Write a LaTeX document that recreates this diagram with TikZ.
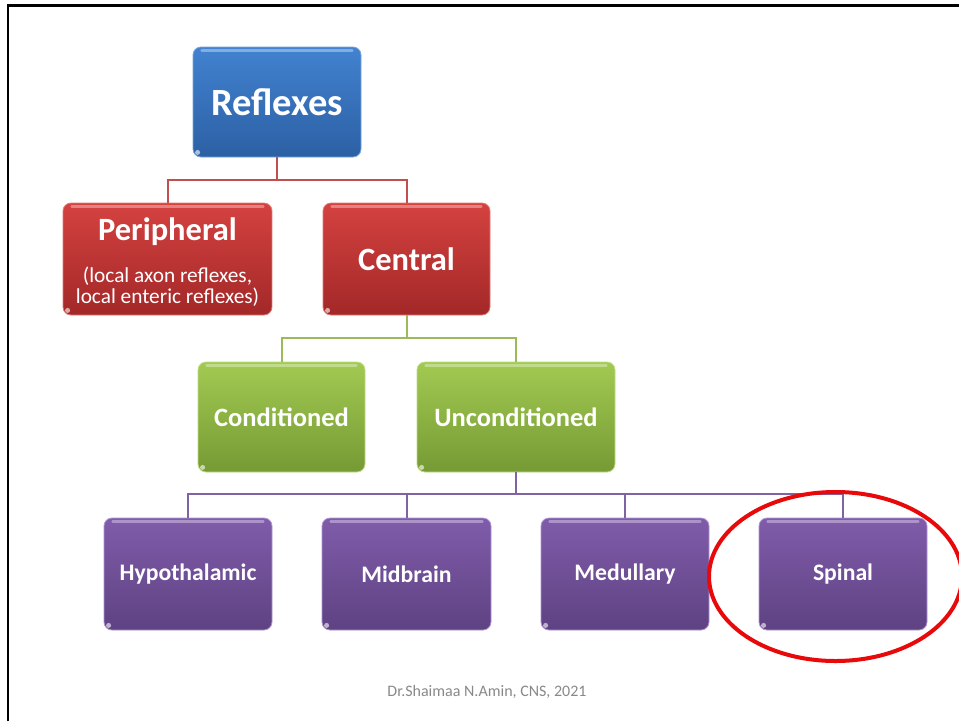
\documentclass[tikz,border=0pt]{standalone}
\usepackage{fontspec}
\setmainfont{Carlito}
\usetikzlibrary{calc}
\definecolor{blueT}{RGB}{66,130,208}
\definecolor{blueB}{RGB}{44,96,164}
\definecolor{blueE}{RGB}{120,165,220}
\definecolor{redT}{RGB}{212,66,64}
\definecolor{redB}{RGB}{163,40,40}
\definecolor{redE}{RGB}{225,120,118}
\definecolor{greenT}{RGB}{162,202,82}
\definecolor{greenB}{RGB}{118,154,52}
\definecolor{greenE}{RGB}{190,220,130}
\definecolor{purT}{RGB}{128,92,170}
\definecolor{purB}{RGB}{94,66,130}
\definecolor{purE}{RGB}{175,150,210}
\definecolor{redLine}{RGB}{192,80,77}
\definecolor{greenLine}{RGB}{155,187,89}
\definecolor{purLine}{RGB}{128,100,162}
\definecolor{ellRed}{RGB}{232,10,10}
\definecolor{footGray}{RGB}{137,137,137}
\begin{document}
\begin{tikzpicture}[x=1pt,y=-1pt,
  box/.style={rounded corners=8pt, inner sep=0pt, text=white, align=center, line width=0.8pt},
  bluebox/.style={box, top color=blueT, bottom color=blueB, draw=blueE},
  redbox/.style={box, top color=redT, bottom color=redB, draw=redE},
  greenbox/.style={box, top color=greenT, bottom color=greenB, draw=greenE},
  purbox/.style={box, top color=purT, bottom color=purB, draw=purE},
  conn/.style={line width=2pt},
  big/.style={font=\bfseries\fontsize{38.5}{44}\selectfont},
  mid/.style={font=\bfseries\fontsize{32.5}{38}\selectfont},
  small/.style={font=\bfseries\fontsize{26.5}{30}\selectfont},
  tiny/.style={font=\bfseries\fontsize{23.7}{28}\selectfont}
]
\useasboundingbox (0,0) rectangle (959,721);
\fill[white] (0,0) rectangle (959,721);
\draw[line width=2.3pt] (8,721) -- (8,5.5) -- (959,5.5);

% nodes
\node[bluebox, big, minimum width=168pt, minimum height=110pt] (refl) at (277,102) {Reflexes};
\node[redbox, minimum width=209pt, minimum height=112pt,
      font=\fontsize{21.3}{21.5}\selectfont] (peri) at (167.5,259)
  {\rule{0pt}{28.5pt}{\bfseries\fontsize{32.5}{38}\selectfont Peripheral}\\[20.5pt]
   (local axon reflexes,\\
   local enteric reflexes)};
\node[redbox, mid, minimum width=167pt, minimum height=112pt] (cent) at (406.5,259) {Central};
\node[greenbox, small, minimum width=167pt, minimum height=110pt] (cond) at (281.5,417) {Conditioned};
\node[greenbox, small, minimum width=198pt, minimum height=110pt] (uncond) at (516,417) {Unconditioned};
\node[purbox, tiny, minimum width=168pt, minimum height=112pt] (hypo) at (188,574) {Hypothalamic};
\node[purbox, tiny, minimum width=169pt, minimum height=112pt] (midb) at (406.5,574) {Midbrain};
\node[purbox, tiny, minimum width=168pt, minimum height=112pt] (medu) at (625,574) {Medullary};
\node[purbox, tiny, minimum width=168pt, minimum height=112pt] (spin) at (843,574) {Spinal};

% top highlights
\foreach \n in {refl,peri,cent,cond,uncond,hypo,midb,medu,spin}{
  \draw[white, opacity=0.35, line width=2.5pt, line cap=round]
    ([xshift=9pt,yshift=-4pt]\n.north west) -- ([xshift=-9pt,yshift=-4pt]\n.north east);
  \fill[white, opacity=0.6] ([xshift=5pt,yshift=5pt]\n.south west) circle[radius=2.5pt];
}

% connectors
\draw[conn, redLine] (refl.south) -- ++(0,22.5) -| (peri.north);
\draw[conn, redLine] (refl.south) -- ++(0,22.5) -| (cent.north);
\draw[conn, greenLine] (cent.south) -- ++(0,23) -| (cond.north);
\draw[conn, greenLine] (cent.south) -- ++(0,23) -| (uncond.north);
\foreach \n in {hypo,midb,medu,spin}{
  \draw[conn, purLine] (uncond.south) -- ++(0,22) -| (\n.north);
}

% highlight ellipse
\draw[ellRed, line width=4pt] (835.5,576.5) ellipse[x radius=126.5pt, y radius=84.5pt];

% footer
\node[text=footGray, font=\fontsize{16}{19}\selectfont] (foot) at (487,692) {Dr.Shaimaa N.Amin, CNS, 2021};
\end{tikzpicture}
\end{document}
